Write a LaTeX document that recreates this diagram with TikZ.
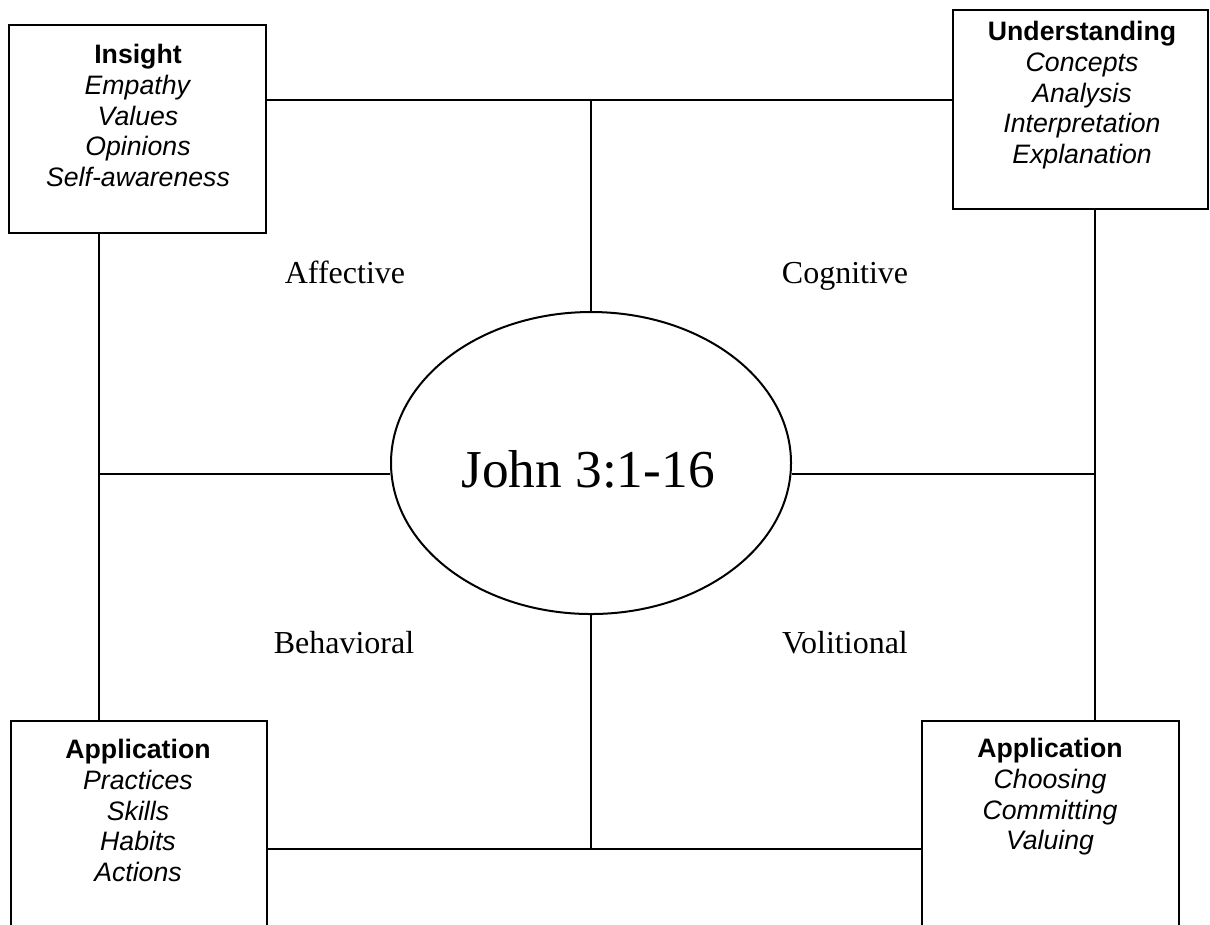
\documentclass[tikz,border=0pt]{standalone}
\usepackage{fontspec}
\setmainfont{Liberation Serif}
\newfontfamily\arialf{Liberation Sans}
\usetikzlibrary{fit,shapes.geometric}
\begin{document}
\begin{tikzpicture}[x=0.375pt,y=-0.375pt,
  boxframe/.style={draw,line width=0.75pt,inner sep=0pt,rectangle},
  boxtext/.style={font=\arialf\fontsize{10}{11.5}\selectfont,align=center,anchor=north,inner sep=0pt},
  side/.style={font=\fontsize{12}{14}\selectfont,anchor=base,inner sep=0pt},
  link/.style={line width=0.75pt}]
\useasboundingbox (0,0) rectangle (1210,924);
\clip (0,0) rectangle (1210,924);
% boxes
\node[boxframe,fit={(9,25) (266,233)}] (insight) {};
\node[boxframe,fit={(953,10) (1208,209)}] (understanding) {};
\node[boxframe,fit={(11,721) (267,950)}] (appl) {};
\node[boxframe,fit={(922,721) (1179,950)}] (appr) {};
% box texts
\node[boxtext] (insighttxt) at (138,44) {\textbf{Insight}\\\textit{Empathy}\\\textit{Values}\\\textit{Opinions}\\\textit{Self-awareness}};
\node[boxtext] (undtxt) at (1082,21) {\textbf{Understanding}\\\textit{Concepts}\\\textit{Analysis}\\\textit{Interpretation}\\\textit{Explanation}};
\node[boxtext] (appltxt) at (138,739) {\textbf{Application}\\\textit{Practices}\\\textit{Skills}\\\textit{Habits}\\\textit{Actions}};
\node[boxtext] (apprtxt) at (1050,738) {\textbf{Application}\\\textit{Choosing}\\\textit{Committing}\\\textit{Valuing}};
% ellipse
\node[draw,ellipse,line width=0.75pt,minimum width=150pt,minimum height=113.25pt,inner sep=0pt] (john) at (591,463) {};
\node[font=\fontsize{20}{24}\selectfont,anchor=base,inner sep=0pt] (johntxt) at (588,487) {John 3:1-16};
% side labels
\node[side] (aff) at (345,283) {Affective};
\node[side] (cog) at (845,283) {Cognitive};
\node[side] (beh) at (344,653) {Behavioral};
\node[side] (vol) at (845,653) {Volitional};
% connectors
\coordinate (tj) at (591,100);
\coordinate (lj) at (99,474);
\coordinate (rj) at (1095,474);
\coordinate (bj) at (591,849);
\draw[link] (insight.east |- tj) -- (understanding.west |- tj);
\draw[link] (tj) -- (john.north);
\draw[link] (insight.south -| lj) -- (appl.north -| lj);
\draw[link] (lj) -- (john.west |- lj);
\draw[link] (understanding.south -| rj) -- (appr.north -| rj);
\draw[link] (john.east |- rj) -- (rj);
\draw[link] (john.south) -- (bj);
\draw[link] (appl.east |- bj) -- (appr.west |- bj);
\end{tikzpicture}
\end{document}
